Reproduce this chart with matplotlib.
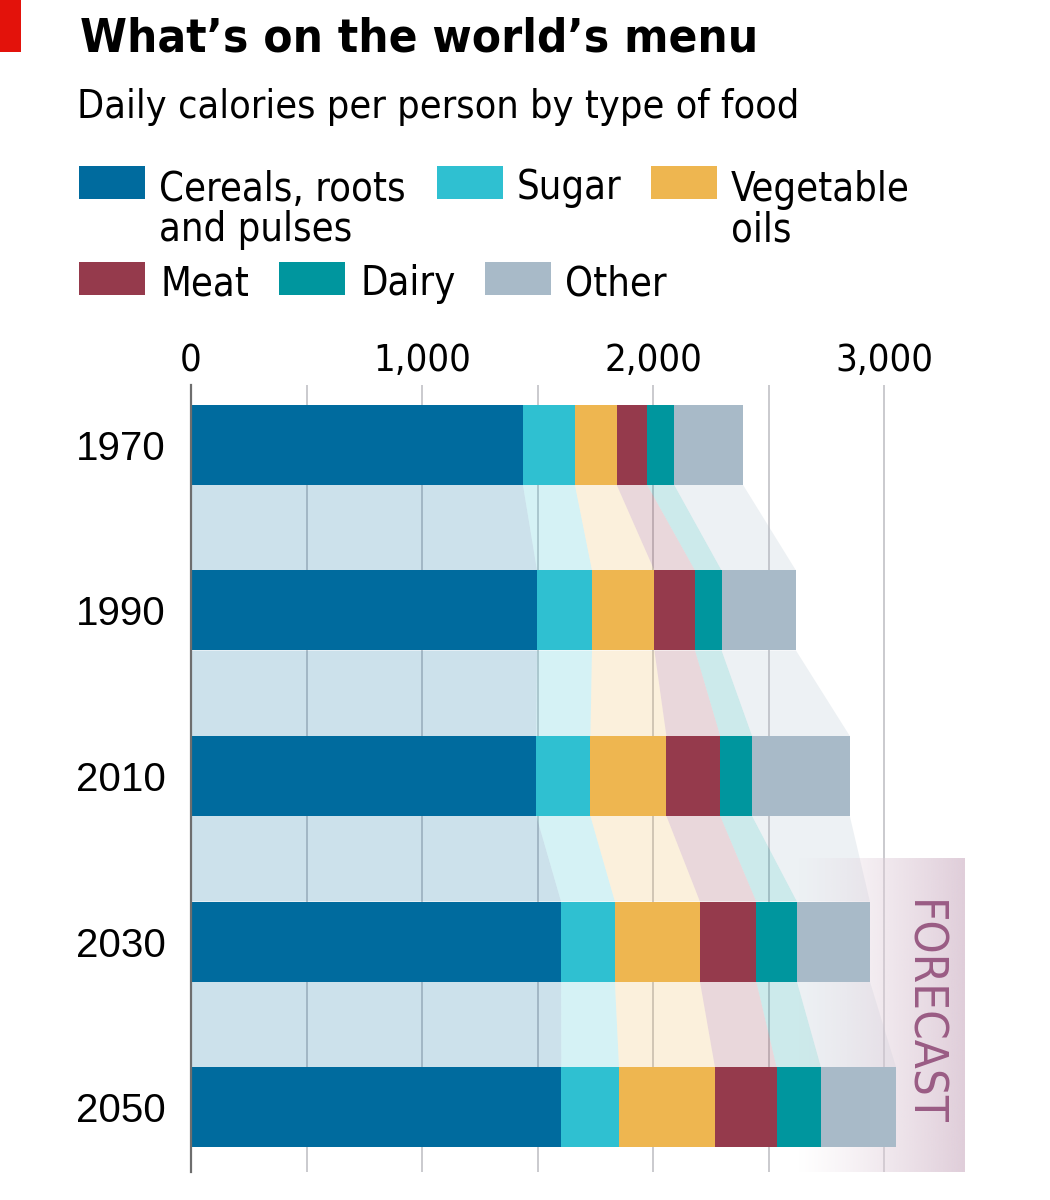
import numpy as np
import matplotlib
matplotlib.use("Agg")
import matplotlib.pyplot as plt
from matplotlib import font_manager
from matplotlib.patches import Rectangle

# look for a condensed face, otherwise a fairly narrow sans
fonts = font_manager.fontManager.ttflist
names = {f.name for f in fonts}
cond = [f for f in fonts if "Narrow" in f.name or "Condensed" in f.name
        or f.stretch in ("condensed", "semi-condensed", "extra-condensed")]
if cond:
    narrow, stretch = cond[0].name, cond[0].stretch
else:
    narrow = "Roboto" if "Roboto" in names else "DejaVu Sans"
    stretch = "normal"
regular = "Liberation Sans" if "Liberation Sans" in names else "DejaVu Sans"

# data (daily kcal per person)
years = ["1970", "1990", "2010", "2030", "2050"]
categories = ["Cereals, roots\nand pulses", "Sugar", "Vegetable\noils", "Meat", "Dairy", "Other"]
cereals = [1437, 1498, 1495, 1602, 1603]
sugar = [225, 238, 234, 233, 250]
veg_oils = [181, 270, 329, 368, 415]
meat = [132, 176, 233, 244, 267]
dairy = [117, 115, 138, 176, 192]
other = [298, 322, 423, 316, 325]
colours = ["#006b9e", "#2fc0d1", "#eeb650", "#953a4c", "#00969e", "#a8bac8"]
forecast_from = 2.5   # between 2010 and 2030

series = np.array([cereals, sugar, veg_oils, meat, dairy, other])
ends = np.cumsum(series, axis=0)
starts = ends - series

W, H = 1050, 1200
fig = plt.figure(figsize=(W / 100, H / 100), dpi=100)
ax = fig.add_axes([191 / W, 1 - 1172 / H, (964 - 191) / W, (1172 - 385) / H])
renderer = fig.canvas.get_renderer()


def fit(t, width=None, height=None):
    # scale font so the text takes the width (or height) it has in the original
    bb = t.get_window_extent(renderer)
    size = bb.width if width else bb.height
    t.set_fontsize(t.get_fontsize() * (width or height) / size)
    return t.get_fontsize()


ypos = np.arange(len(years))
bh = 80 / 165.5

# bars
for k in range(len(series)):
    ax.barh(ypos, series[k], left=starts[k], height=bh, color=colours[k],
            linewidth=0, zorder=3)

# faded bands joining bars
for i in range(len(years) - 1):
    y0 = ypos[i] + bh / 2
    y1 = ypos[i + 1] - bh / 2
    for k in range(len(series)):
        ax.fill([starts[k][i], ends[k][i], ends[k][i + 1], starts[k][i + 1]],
                [y0, y0, y1, y1], color=colours[k], alpha=0.2, linewidth=0, zorder=1)

xmax = (964 - 191) / 0.231
ymin, ymax = -0.3625, 4.3927
ax.set_xlim(0, xmax)
ax.set_ylim(ymax, ymin)

# forecast shading
x_fc = 2623
grad = np.zeros((2, 256, 4))
grad[..., 0] = 224 / 255
grad[..., 1] = 206 / 255
grad[..., 2] = 218 / 255
grad[..., 3] = np.linspace(0, 1, 256) ** 1.2
ax.imshow(grad, extent=[x_fc, xmax, ymax, forecast_from], aspect="auto",
          interpolation="bilinear", zorder=2)
fc = ax.text(3163, 3.43, "FORECAST", rotation=-90, ha="center", va="center",
             color="#9a5c84", fontsize=30, family=narrow, fontstretch=stretch)
fit(fc, height=226)

ax.set_xticks([0, 1000, 2000, 3000])
ax.set_xticklabels(["0", "1,000", "2,000", "3,000"])
ax.set_xticks([500, 1500, 2500], minor=True)
ax.xaxis.tick_top()
ax.set_yticks(ypos)
ax.set_yticklabels(years)

ax.set_axisbelow(True)
ax.grid(axis="x", which="both", color="#c6c6ca", linewidth=1.3)
ax.set_xlim(0, xmax)
for s in ["top", "right", "bottom"]:
    ax.spines[s].set_visible(False)
ax.spines["left"].set_color("#6e6e6e")
ax.spines["left"].set_linewidth(1.6)
ax.spines["left"].set_zorder(4)

# header
fig.add_artist(Rectangle((0, 1 - 52 / H), 21 / W, 52 / H, color="#e3120b",
                         transform=fig.transFigure, linewidth=0))
title = fig.text(80 / W, 1 - 52 / H, "What\u2019s on the world\u2019s menu", fontsize=40,
                 fontweight="bold", family=narrow, fontstretch=stretch, va="baseline")
fit(title, width=676)
sub = fig.text(77 / W, 1 - 118 / H, "Daily calories per person by type of food",
               fontsize=30, family=narrow, fontstretch=stretch, va="baseline")
fit(sub, width=720)

# legend
sq_x = [79, 437, 651, 79, 279, 485]
txt_x = [159, 517, 731, 161, 360, 565]
row_top = [166, 166, 166, 262, 262, 262]
probe = fig.text(0, 0, "Cereals, roots", fontsize=30, family=narrow, fontstretch=stretch)
leg_size = fit(probe, width=246)
probe.remove()
for k in range(len(categories)):
    fig.add_artist(Rectangle((sq_x[k] / W, 1 - (row_top[k] + 33) / H), 66 / W, 33 / H,
                             color=colours[k], transform=fig.transFigure, linewidth=0))
    extra = categories[k].count("\n") * 42
    fig.text(txt_x[k] / W, 1 - (row_top[k] + 33 + extra) / H, categories[k],
             fontsize=leg_size, family=narrow, fontstretch=stretch, va="baseline",
             linespacing=1.0)

# tick labels
probe = fig.text(0, 0, "1,000", fontsize=30, family=narrow, fontstretch=stretch)
tick_size = fit(probe, width=98)
probe.remove()
ax.tick_params(axis="x", which="both", length=0, pad=4, labelsize=tick_size)
for lab in ax.get_xticklabels():
    lab.set_family(narrow)
    lab.set_fontstretch(stretch)
ax.tick_params(axis="y", length=0, pad=18, labelsize=29)
for lab in ax.get_yticklabels():
    lab.set_family(regular)

fig.savefig("out.png", dpi=100)
